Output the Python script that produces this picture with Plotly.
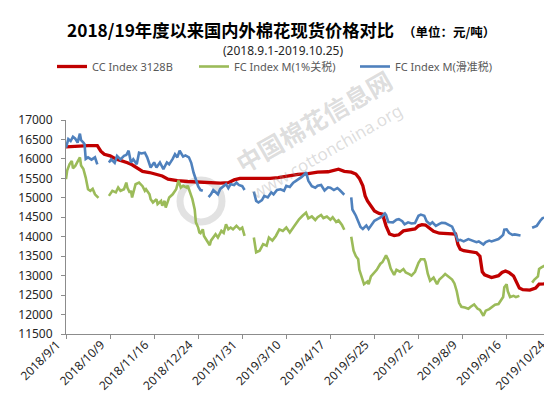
import plotly.graph_objects as go

# ---------------- data ----------------
red_dates = ["2018-09-01","2018-09-11","2018-09-20","2018-09-28","2018-10-01","2018-10-04","2018-10-09","2018-10-14",
             "2018-10-20","2018-10-24","2018-10-28","2018-11-02","2018-11-06","2018-11-12","2018-11-19","2018-11-23",
             "2018-11-28","2018-12-06","2018-12-15","2018-12-21","2018-12-28","2019-01-06","2019-01-12","2019-01-19",
             "2019-01-24","2019-01-29","2019-02-06","2019-02-15","2019-02-24","2019-03-03","2019-03-11","2019-03-20",
             "2019-03-29","2019-04-06","2019-04-15","2019-04-22","2019-04-24","2019-04-29","2019-05-05","2019-05-09",
             "2019-05-12","2019-05-15","2019-05-17","2019-05-19","2019-05-22","2019-05-25","2019-05-29","2019-06-01",
             "2019-06-04","2019-06-07","2019-06-11","2019-06-15","2019-06-19","2019-06-25","2019-06-29","2019-07-02",
             "2019-07-05","2019-07-08","2019-07-12","2019-07-15","2019-07-20","2019-07-27","2019-08-03","2019-08-05",
             "2019-08-07","2019-08-10","2019-08-15","2019-08-21","2019-08-24","2019-08-26","2019-08-28","2019-09-03",
             "2019-09-09","2019-09-12","2019-09-15","2019-09-18","2019-09-22","2019-09-24","2019-09-27","2019-09-30",
             "2019-10-06","2019-10-11","2019-10-14","2019-10-18","2019-10-24"]
red_vals = [16310,16330,16340,16340,16200,16120,16080,16000,15950,15900,15850,15760,15680,15650,15600,15560,
            15480,15440,15420,15410,15390,15370,15380,15390,15460,15500,15500,15480,15500,15520,15560,15600,
            15620,15660,15670,15710,15735,15680,15660,15610,15500,15310,15050,14920,14800,14660,14600,14580,
            14280,14070,14030,14050,14150,14190,14200,14280,14310,14300,14220,14140,14090,14070,14070,13800,
            13680,13640,13620,13590,13500,13100,13020,12950,13000,13080,13120,13080,12990,12850,12680,12640,
            12630,12680,12780,12790,12810]

green_dates = ["2018-09-01","2018-09-02","2018-09-04","2018-09-06","2018-09-07","2018-09-09","2018-09-11","2018-09-13",
               "2018-09-14","2018-09-16","2018-09-18","2018-09-20","2018-09-22","2018-09-24","2018-09-26","2018-09-29",
               "2018-10-03",
               "2018-10-08","2018-10-11","2018-10-14","2018-10-16","2018-10-18","2018-10-21","2018-10-23","2018-10-24",
               "2018-10-26","2018-10-27","2018-10-28","2018-10-31","2018-11-03","2018-11-06","2018-11-08","2018-11-09",
               "2018-11-12","2018-11-13","2018-11-15","2018-11-18","2018-11-19","2018-11-22","2018-11-23","2018-11-25",
               "2018-11-26","2018-11-29","2018-12-02","2018-12-05","2018-12-07","2018-12-09","2018-12-11","2018-12-14",
               "2018-12-15","2018-12-17","2018-12-19","2018-12-21","2018-12-22","2018-12-24","2018-12-25","2018-12-26",
               "2018-12-28","2018-12-29","2018-12-31","2019-01-03","2019-01-04","2019-01-07","2019-01-08","2019-01-10",
               "2019-01-13","2019-01-15","2019-01-17","2019-01-19","2019-01-21","2019-01-23","2019-01-26","2019-01-29",
               "2019-01-31","2019-02-02",
               "2019-02-06",
               "2019-02-10","2019-02-12","2019-02-15","2019-02-18","2019-02-21","2019-02-23","2019-02-26","2019-03-01",
               "2019-03-04","2019-03-07","2019-03-10","2019-03-13","2019-03-16","2019-03-18","2019-03-21","2019-03-24",
               "2019-03-27","2019-03-29","2019-04-01","2019-04-04","2019-04-06","2019-04-09","2019-04-11","2019-04-14",
               "2019-04-17","2019-04-19","2019-04-22","2019-04-24","2019-04-27","2019-04-29",
               "2019-05-02",
               "2019-05-05","2019-05-07","2019-05-09","2019-05-11","2019-05-12","2019-05-14","2019-05-16","2019-05-19",
               "2019-05-20","2019-05-22","2019-05-25","2019-05-27","2019-05-30","2019-06-01","2019-06-04","2019-06-06",
               "2019-06-08","2019-06-11","2019-06-13","2019-06-16","2019-06-19","2019-06-21","2019-06-24","2019-06-26",
               "2019-06-29","2019-07-02","2019-07-04","2019-07-07","2019-07-08","2019-07-10","2019-07-12","2019-07-15",
               "2019-07-18","2019-07-20","2019-07-23","2019-07-25","2019-07-28","2019-07-31","2019-08-02","2019-08-04",
               "2019-08-06","2019-08-08","2019-08-11","2019-08-14","2019-08-16","2019-08-19","2019-08-22","2019-08-24",
               "2019-08-27","2019-08-29","2019-09-01","2019-09-03","2019-09-06","2019-09-09","2019-09-11","2019-09-13",
               "2019-09-14","2019-09-16","2019-09-17","2019-09-19","2019-09-22","2019-09-24","2019-09-27",
               "2019-10-03",
               "2019-10-08","2019-10-10","2019-10-13","2019-10-14","2019-10-16","2019-10-19","2019-10-21","2019-10-24"]
green_vals = [15480,15700,15860,15950,15760,15820,15930,16040,15830,15740,15520,15220,15180,15230,15090,15000,
              None,
              15050,15180,15140,15265,15180,15220,15390,15260,15135,15180,15010,15350,15390,15300,15180,15220,
              15090,14965,14880,14965,14840,14920,14795,14920,14750,15010,15090,15220,15440,15265,15310,15265,
              15310,15135,14965,14700,14370,14235,14110,14090,14190,14020,13935,13780,13900,14020,14065,13980,
              14150,14100,14320,14190,14235,14190,14280,14190,14235,14020,
              None,
              13980,13600,13640,13810,13770,13980,13900,14020,14190,14150,14235,14110,14235,14320,14450,14540,
              14620,14470,14520,14430,14500,14560,14480,14520,14440,14500,14380,14420,14300,14180,
              None,
              14000,13640,13500,13420,13150,12950,12780,12850,12780,12980,13080,13150,13300,13350,13520,13400,
              13180,13020,13150,13100,13170,13080,13040,13000,13100,13330,13420,13420,13350,13050,12870,12950,
              12780,12900,12980,13040,12970,12900,12800,12600,12300,12200,12180,12150,12200,12260,12150,12120,
              11970,12100,12140,12180,12250,12270,12380,12450,12700,12780,12600,12450,12480,12450,12480,
              None,
              12820,12900,12980,13170,13210,13260,13260,13260]

blue_dates = ["2018-09-01","2018-09-03","2018-09-05","2018-09-07","2018-09-09","2018-09-11","2018-09-13","2018-09-14",
              "2018-09-16","2018-09-17","2018-09-18","2018-09-20","2018-09-23","2018-09-26","2018-09-28",
              "2018-10-03",
              "2018-10-08","2018-10-10","2018-10-13","2018-10-15","2018-10-18","2018-10-21","2018-10-23","2018-10-25",
              "2018-10-27","2018-10-29","2018-11-01","2018-11-03","2018-11-05","2018-11-08","2018-11-10","2018-11-13",
              "2018-11-16","2018-11-18","2018-11-21","2018-11-24","2018-11-27","2018-11-29","2018-12-02","2018-12-04",
              "2018-12-06","2018-12-08","2018-12-11","2018-12-13","2018-12-16","2018-12-18","2018-12-20","2018-12-22",
              "2018-12-24","2018-12-26","2018-12-28",
              "2018-12-30",
              "2019-01-02","2019-01-04","2019-01-06","2019-01-08","2019-01-10","2019-01-12","2019-01-15","2019-01-17",
              "2019-01-19","2019-01-21","2019-01-24","2019-01-26","2019-01-28","2019-01-31","2019-02-02",
              "2019-02-06",
              "2019-02-10","2019-02-12","2019-02-14","2019-02-17","2019-02-19","2019-02-22","2019-02-25","2019-02-27",
              "2019-03-02","2019-03-05","2019-03-08","2019-03-10","2019-03-13","2019-03-16","2019-03-18","2019-03-21",
              "2019-03-23","2019-03-26","2019-03-27","2019-03-29","2019-04-01","2019-04-04","2019-04-06","2019-04-09",
              "2019-04-12","2019-04-15","2019-04-17","2019-04-20","2019-04-23","2019-04-25","2019-04-27","2019-04-29",
              "2019-05-02",
              "2019-05-05","2019-05-06","2019-05-09","2019-05-11","2019-05-13","2019-05-15","2019-05-18","2019-05-20",
              "2019-05-23","2019-05-25","2019-05-28","2019-05-31","2019-06-03","2019-06-04","2019-06-06","2019-06-10",
              "2019-06-13","2019-06-15","2019-06-18","2019-06-20","2019-06-23","2019-06-26","2019-06-29","2019-07-02",
              "2019-07-04","2019-07-07","2019-07-09","2019-07-12","2019-07-14","2019-07-17","2019-07-20","2019-07-22",
              "2019-07-25","2019-07-27","2019-07-31","2019-08-03","2019-08-05","2019-08-07","2019-08-10","2019-08-14",
              "2019-08-17","2019-08-21","2019-08-23","2019-08-27","2019-08-29","2019-09-01","2019-09-03","2019-09-06",
              "2019-09-09","2019-09-11","2019-09-13","2019-09-14","2019-09-16","2019-09-18","2019-09-21","2019-09-23",
              "2019-09-26","2019-09-28",
              "2019-10-03",
              "2019-10-08","2019-10-12","2019-10-15","2019-10-17","2019-10-20","2019-10-23","2019-10-24"]
blue_vals = [16290,16510,16460,16570,16520,16420,16650,16480,16420,16380,16000,16040,15980,16040,15860,
             None,
             15910,15990,15900,16080,15990,16080,16100,16210,15910,15990,15860,16160,16140,16160,16040,15780,
             15910,15780,15910,15740,15910,15860,16000,16120,16040,16210,16060,16090,16040,15900,15650,15440,
             15290,15200,15180,
             None,
             15020,15090,15200,15150,15090,15230,15300,15350,15250,15350,15330,15390,15330,15300,15200,
             None,
             15160,14920,14880,14940,15050,15010,15140,15090,15200,15220,15180,15310,15280,15390,15430,15480,
             15530,15610,15660,15440,15300,15260,15310,15330,15190,15270,15260,15200,15250,15200,15140,15080,
             None,
             15010,14700,14540,14380,14250,14200,14290,14200,14310,14410,14460,14510,14600,14560,14380,14370,
             14440,14450,14400,14320,14370,14340,14350,14540,14570,14540,14400,14320,14370,14280,14330,14360,
             14350,14320,14260,14060,13900,13920,13880,13940,13900,13860,13880,13800,13860,13900,13880,13920,
             13940,13990,14050,14180,14190,14100,14050,14060,14040,14030,
             None,
             14230,14280,14410,14480,14500,14500,14510]

y_ticks = [11500, 12000, 12500, 13000, 13500, 14000, 14500, 15000, 15500, 16000, 16500, 17000]

# ---------------- layout helpers (pixel -> paper coordinates) ----------------
W, H = 552, 397
ML, MR, MT, MB = 58, 7, 112, 71
PW, PH = W - ML - MR, H - MT - MB


def px(x):
    return (x - ML) / PW


def py(y):
    return (H - MB - y) / PH


fig = go.Figure()
fig.add_trace(go.Scatter(x=red_dates, y=red_vals, mode="lines", name="CC Index 3128B",
                         line=dict(color="#C00000", width=3.3), legendwidth=97))
fig.add_trace(go.Scatter(x=green_dates, y=green_vals, mode="lines", name="FC Index M(1%关税)",
                         line=dict(color="#9BBB59", width=2.6), legendwidth=116))
fig.add_trace(go.Scatter(x=blue_dates, y=blue_vals, mode="lines", name="FC Index M(滑准税)",
                         line=dict(color="#4F81BD", width=2.6), legendwidth=110))

axis_col = "#8C8C8C"
tick_font = dict(family="Noto Sans, Liberation Sans, sans-serif", size=12, color="#262626")

fig.update_xaxes(type="date", range=["2018-09-01", "2019-10-26"], tick0="2018-09-01",
                 dtick=38 * 86400000, tickformat="%Y/%-m/%-d", tickangle=-45,
                 showline=True, linecolor=axis_col, linewidth=1, ticks="outside",
                 ticklen=4, tickcolor=axis_col, showgrid=False, zeroline=False,
                 tickfont=tick_font, ticklabelstandoff=-6, ticklabelshift=-9, automargin=False)
fig.update_yaxes(range=[11500, 17000], tickvals=y_ticks, tickformat="d", showline=True,
                 linecolor=axis_col, linewidth=1, ticks="outside", ticklen=4, tickcolor=axis_col,
                 showgrid=False, zeroline=False, tickfont=tick_font, ticklabelstandoff=6,
                 automargin=False)

cjk = "Noto Sans CJK SC, Noto Sans, sans-serif"
annotations = [
    dict(text="<b>2018/19年度以来国内外棉花现货价格对比</b>", x=px(57), y=py(21), xanchor="left",
         font=dict(family=cjk, size=17.3, color="#000000")),
    dict(text="<b>（单位：元/吨）</b>", x=px(393), y=py(24), xanchor="left",
         font=dict(family=cjk, size=12.5, color="#000000")),
    dict(text="(2018.9.1-2019.10.25)", x=px(213), y=py(42), xanchor="left",
         font=dict(family="Noto Sans, sans-serif", size=12, color="#262626")),
    dict(text="<b>中国棉花信息网</b>", x=px(305), y=py(113), textangle=-30,
         font=dict(family=cjk, size=25, color="rgba(150,150,150,0.33)")),
    dict(text="www.cottonchina.org", x=px(318), y=py(143), textangle=-30,
         font=dict(family="Noto Sans, sans-serif", size=17, color="rgba(150,150,150,0.33)")),
]
for a in annotations:
    a.setdefault("xanchor", "center")
    a.update(xref="paper", yref="paper", showarrow=False, yanchor="middle")

shapes = [
    dict(type="circle", xref="paper", yref="paper", layer="below",
         x0=px(172), x1=px(214), y0=py(214), y1=py(172),
         line=dict(color="rgba(160,160,160,0.30)", width=7)),
]

fig.update_layout(
    width=W, height=H,
    margin=dict(l=ML, r=MR, t=MT, b=MB, pad=0, autoexpand=False),
    paper_bgcolor="white", plot_bgcolor="white",
    font=dict(family="Noto Sans, Noto Sans CJK SC, sans-serif", color="#262626"),
    showlegend=True,
    legend=dict(orientation="h", x=px(44), y=py(44), xanchor="left", yanchor="top",
                font=dict(family="Noto Sans, Noto Sans CJK SC, sans-serif", size=11, color="#595959"),
                bgcolor="rgba(0,0,0,0)", itemwidth=30, tracegroupgap=0),
    annotations=annotations,
    shapes=shapes,
)

fig.write_html("out.html")
